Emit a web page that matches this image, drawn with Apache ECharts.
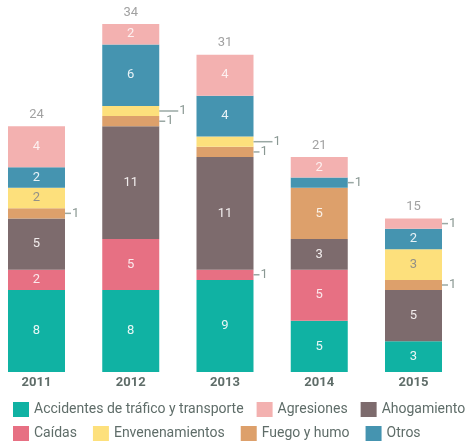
<!DOCTYPE html>
<html>
<head>
<meta charset="utf-8">
<script src="https://cdn.jsdelivr.net/npm/echarts@6/dist/echarts.min.js"></script>
<style>
  html, body { margin: 0; padding: 0; background: #fff; }
  #chart { width: 465px; height: 441px; }
</style>
</head>
<body>
<div id="chart"></div>
<script>
const years = ["2011", "2012", "2013", "2014", "2015"];

// stacked bottom to top
const accidentes = [8, 8, 9, 5, 3];
const caidas = [2, 5, 1, 5, 0];
const ahogamiento = [5, 11, 11, 3, 5];
const fuego = [1, 1, 1, 5, 1];
const envenenamientos = [2, 1, 1, 0, 3];
const otros = [2, 6, 4, 1, 2];
const agresiones = [4, 2, 4, 2, 1];
const totals = [24, 34, 31, 21, 15];

const chart = echarts.init(document.getElementById("chart"));
const font = "Roboto, 'Noto Sans', sans-serif";
const leaderColor = "#9aa8a4";

function makeSeries(name, values, color, labelColor, leaderWidth) {
  return {
    name: name,
    type: "bar",
    stack: "total",
    barWidth: 57,
    itemStyle: { color: color },
    data: values.map((v) => {
      if (v === 0) {
        return { value: v, label: { show: false } };
      }
      if (v === 1) {
        return {
          value: v,
          label: {
            show: true,
            position: "right",
            distance: 0,
            formatter: "{l|}{n|" + v + "}",
            rich: {
              l: { width: leaderWidth, height: 1.5, backgroundColor: leaderColor },
              n: { color: "#8a9893", fontSize: 13, fontFamily: font, padding: [0, 0, 0, 1] },
            },
          },
        };
      }
      return {
        value: v,
        label: {
          show: true,
          position: "inside",
          color: labelColor,
          fontSize: 13,
          fontFamily: font,
        },
      };
    }),
  };
}

chart.setOption({
  backgroundColor: "#fff",
  animation: false,
  grid: { left: 36.5, right: 51.5, top: 24, bottom: 69 },
  xAxis: {
    type: "category",
    data: years,
    boundaryGap: false,
    axisLine: { show: false },
    axisTick: { show: false },
    axisLabel: {
      color: "#5f6d69",
      fontSize: 13,
      fontWeight: "bold",
      fontFamily: font,
      margin: 4,
    },
  },
  yAxis: { type: "value", min: 0, max: 34, show: false },
  legend: [
    {
      left: 8,
      top: 397,
      width: 600,
      itemWidth: 16,
      itemHeight: 15,
      itemGap: 13,
      icon: "rect",
      textStyle: { color: "#5f6d69", fontSize: 14, fontFamily: font },
      data: ["Accidentes de tráfico y transporte", "Agresiones", "Ahogamiento"],
    },
    {
      left: 8,
      top: 421,
      width: 600,
      itemWidth: 16,
      itemHeight: 15,
      itemGap: 16,
      icon: "rect",
      textStyle: { color: "#5f6d69", fontSize: 14, fontFamily: font },
      data: ["Caídas", "Envenenamientos", "Fuego y humo", "Otros"],
    },
  ],
  series: [
    makeSeries("Accidentes de tráfico y transporte", accidentes, "#10b2a3", "#e8f7f5", 6),
    makeSeries("Caídas", caidas, "#e77083", "#fbe9ec", 6),
    makeSeries("Ahogamiento", ahogamiento, "#7d6b6d", "#f1ecec", 6),
    makeSeries("Fuego y humo", fuego, "#dda06b", "#fbf1e7", 6),
    makeSeries("Envenenamientos", envenenamientos, "#fde07c", "#939187", 19),
    makeSeries("Otros", otros, "#4594b0", "#e9f3f7", 6),
    makeSeries("Agresiones", agresiones, "#f3b1b0", "#fdf1f1", 6),
    {
      name: "Total",
      type: "scatter",
      symbolSize: 0,
      data: totals.map((t, i) => [years[i], t]),
      label: {
        show: true,
        position: "top",
        distance: 5,
        color: "#8a8a8a",
        fontSize: 13,
        fontFamily: font,
        formatter: (p) => p.value[1],
      },
    },
  ],
});
</script>
</body>
</html>
